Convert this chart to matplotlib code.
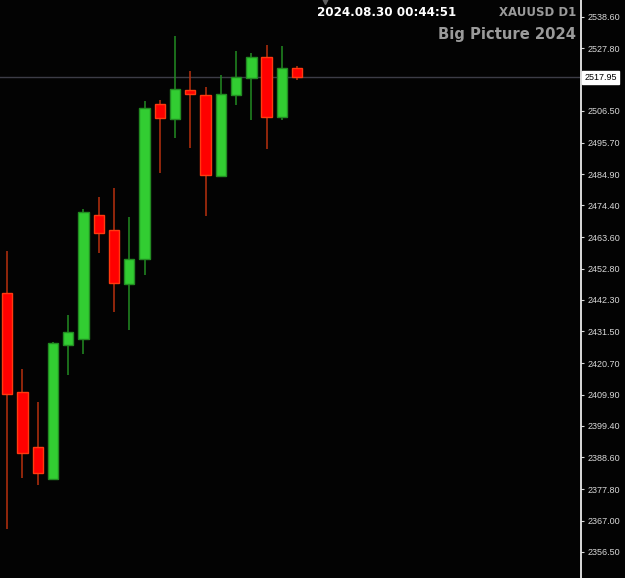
import numpy as np
import matplotlib
matplotlib.use("Agg")
import matplotlib.pyplot as plt
import matplotlib.transforms as mtransforms

# daily XAUUSD candles
opens  = [2444.4, 2410.8, 2392.0, 2381.1, 2426.7, 2428.8, 2471.2, 2465.9, 2447.6, 2456.1,
          2508.9, 2503.8, 2513.7, 2512.1, 2484.5, 2511.8, 2517.8, 2524.8, 2504.4, 2521.1]
highs  = [2458.8, 2418.6, 2407.3, 2427.8, 2437.1, 2473.0, 2477.1, 2480.3, 2470.3, 2509.9,
          2510.2, 2532.0, 2520.2, 2514.6, 2518.7, 2527.0, 2526.1, 2529.0, 2528.6, 2521.8]
lows   = [2364.2, 2381.7, 2379.1, 2381.1, 2416.7, 2423.9, 2458.3, 2438.2, 2432.0, 2450.8,
          2485.5, 2497.2, 2494.0, 2470.8, 2484.1, 2508.6, 2503.4, 2493.7, 2503.5, 2517.1]
closes = [2410.1, 2390.0, 2383.2, 2427.4, 2431.3, 2472.1, 2464.9, 2448.0, 2456.2, 2507.5,
          2504.1, 2514.1, 2512.4, 2484.6, 2512.2, 2518.0, 2524.8, 2504.5, 2521.2, 2517.95]

price_ticks = [2538.60, 2527.80, 2506.50, 2495.70, 2484.90, 2474.40, 2463.60, 2452.80,
               2442.30, 2431.50, 2420.70, 2409.90, 2399.40, 2388.60, 2377.80, 2367.00, 2356.50]
last_price = 2517.95

bg = "#030303"
fig = plt.figure(figsize=(6.25, 5.78), dpi=100, facecolor=bg)
ax = fig.add_axes([0, 0, 581 / 625, 1])
ax.set_facecolor(bg)

x = np.arange(len(opens))
o = np.array(opens); c = np.array(closes)
up = c >= o

# wicks
ax.vlines(x[up], np.array(lows)[up], np.array(highs)[up], color="#228B22", lw=1.1, zorder=2)
ax.vlines(x[~up], np.array(lows)[~up], np.array(highs)[~up], color="#B8300E", lw=1.1, zorder=2)
# bodies
bot = np.minimum(o, c)
h = np.abs(c - o)
ax.bar(x[up], h[up], bottom=bot[up], width=0.68, color="#32CD32", edgecolor="#228B22", lw=1, zorder=3)
ax.bar(x[~up], h[~up], bottom=bot[~up], width=0.68, color="#FF0000", edgecolor="#FF3A10", lw=1, zorder=3)

# last price line
ax.axhline(last_price, color="#3c3c46", lw=1, zorder=1)

ax.set_xlim(-0.47, 37.6)
ax.set_ylim(2347.55, 2544.28)

# axes styling
for s in ["top", "left", "bottom"]:
    ax.spines[s].set_visible(False)
ax.spines["right"].set_color("white")
ax.spines["right"].set_linewidth(1.2)
ax.set_xticks([])
ax.yaxis.tick_right()
ax.set_yticks(price_ticks)
ax.set_yticklabels([f"{p:.2f}" for p in price_ticks], family="Liberation Sans")
ax.tick_params(axis="y", colors="#d8d8d8", length=2.5, width=0.8, pad=2, labelsize=6.5)

# last price box
trans = mtransforms.blended_transform_factory(ax.transAxes, ax.transData)
ax.text(1.006, last_price, f"{last_price:.2f}", transform=trans, ha="left", va="center",
        fontsize=6.5, family="Liberation Sans", color="black", clip_on=False,
        bbox=dict(boxstyle="square,pad=0.25", fc="white", ec="white"))

# shift marker at top
ax.plot([20.8], [2544.28], marker="v", color="#606060", markersize=6, clip_on=True, zorder=4)

# header texts
fig.text(317 / 625, 1 - 12 / 578, "2024.08.30 00:44:51", color="white", fontsize=8.6,
         fontweight="bold", ha="left", va="center")
fig.text(576 / 625, 1 - 13 / 578, "XAUUSD D1", color="#9a9a9a", fontsize=8.5,
         fontweight="bold", ha="right", va="center")
fig.text(576 / 625, 1 - 35 / 578, "Big Picture 2024", color="#9a9a9a", fontsize=10.6,
         fontweight="bold", ha="right", va="center")

plt.savefig("out.png", dpi=100, facecolor=bg)
